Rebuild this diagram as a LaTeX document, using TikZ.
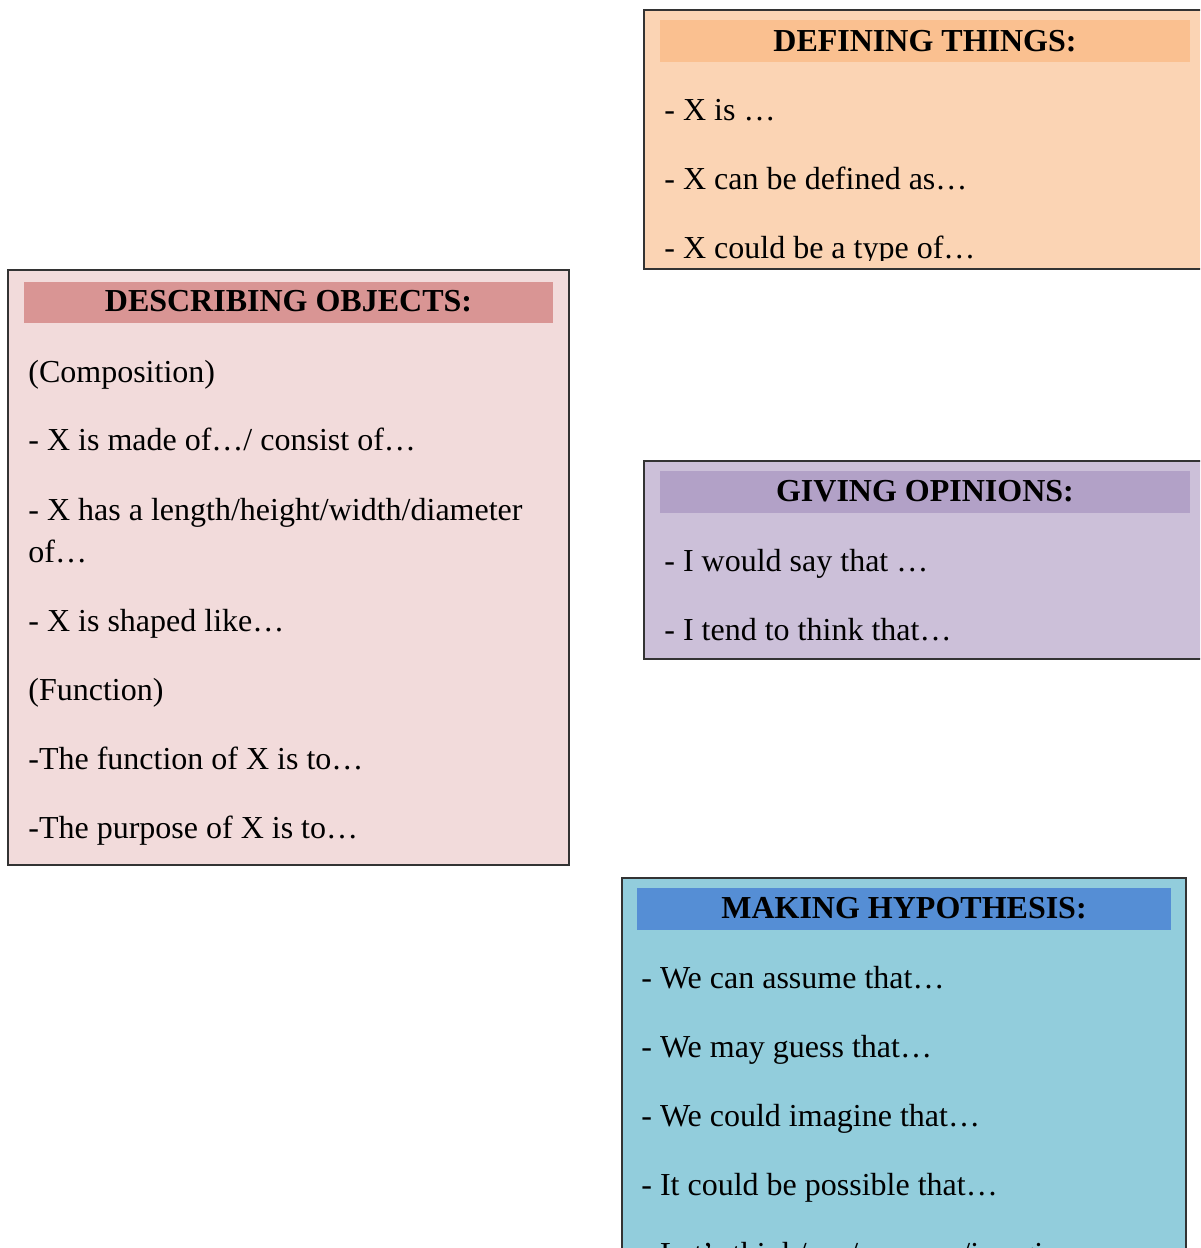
\documentclass[tikz,border=0pt]{standalone}
\usepackage{fontspec}
\setmainfont{Liberation Serif}
\definecolor{defbg}{HTML}{FBD4B4}
\definecolor{defhd}{HTML}{FAC090}
\definecolor{desbg}{HTML}{F2DBDB}
\definecolor{deshd}{HTML}{D99594}
\definecolor{opbg}{HTML}{CCC0D9}
\definecolor{ophd}{HTML}{B2A1C7}
\definecolor{hypbg}{HTML}{92CDDC}
\definecolor{hyphd}{HTML}{558ED5}
\begin{document}
\begin{tikzpicture}[x=0.5pt,y=-0.5pt,
  frame/.style={draw=black!80, line width=0.75pt},
  head/.style={font=\fontsize{16}{19}\selectfont\bfseries, anchor=base, inner sep=0pt},
  item/.style={font=\fontsize{16}{21}\selectfont, anchor=base west, inner sep=0pt},
]
\clip (0,0) rectangle (1200,1248);
\fill[white] (0,0) rectangle (1200,1248);

% Defining things
\filldraw[frame, fill=defbg] (644,10) rectangle (1215,269);
\fill[defhd] (660,20) rectangle (1190,62);
\node[head] (defh) at (925,51) {DEFINING THINGS:};
\begin{scope}
  \clip (645,63) rectangle (1199,260);
  \node[item] (def1) at (664,120) {- X is …};
  \node[item] (def2) at (664,189) {- X can be defined as…};
  \node[item] (def3) at (664,258) {- X could be a type of…};
\end{scope}

% Describing objects
\filldraw[frame, fill=desbg] (8,270) rectangle (569,865);
\fill[deshd] (24,282) rectangle (553,323);
\node[head] (desh) at (288.5,311) {DESCRIBING OBJECTS:};
\node[item] (des1) at (28,382) {(Composition)};
\node[item] (des2) at (28,450) {- X is made of…/ consist of…};
\node[item] (des3) at (28,520) {- X has a length/height/width/diameter};
\node[item] (des3b) at (28,562) {of…};
\node[item] (des4) at (28,631) {- X is shaped like…};
\node[item] (des5) at (28,700) {(Function)};
\node[item] (des6) at (28,769) {-The function of X is to…};
\node[item] (des7) at (28,838) {-The purpose of X is to…};

% Giving opinions
\filldraw[frame, fill=opbg] (644,461) rectangle (1215,659);
\fill[ophd] (660,471) rectangle (1190,513);
\node[head] (oph) at (925,501) {GIVING OPINIONS:};
\node[item] (op1) at (664,571) {- I would say that …};
\node[item] (op2) at (664,640) {- I tend to think that…};

% Making hypothesis
\filldraw[frame, fill=hypbg] (622,878) rectangle (1186,1270);
\fill[hyphd] (637,888) rectangle (1171,930);
\node[head] (hyph) at (904,918) {MAKING HYPOTHESIS:};
\node[item] (hyp1) at (641,988) {- We can assume that…};
\node[item] (hyp2) at (641,1057) {- We may guess that…};
\node[item] (hyp3) at (641,1126) {- We could imagine that…};
\node[item] (hyp4) at (641,1195) {- It could be possible that…};
\node[item] (hyp5) at (641,1264) {- Let’s think/say/suppose/imagine…};
\end{tikzpicture}
\end{document}
